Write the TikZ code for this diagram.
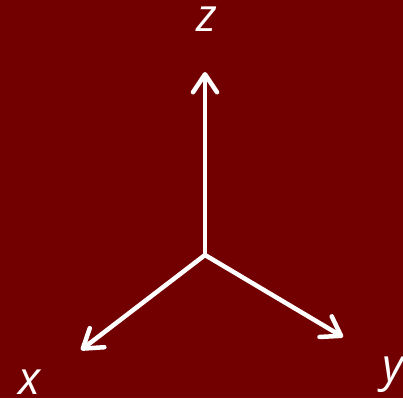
\documentclass[tikz,border=0pt]{standalone}
\usepackage{fontspec}
\setmainfont{Open Sans}
\usetikzlibrary{arrows.meta}
\definecolor{bgred}{RGB}{115,0,0}
\tikzset{
  axis/.style={draw=white, line width=4.5pt, line cap=round,
    -{Straight Barb[length=18pt,width=24pt,line cap=round,line join=round]}},
  lbl/.style={text=white, font=\fontsize{46}{46}\selectfont\itshape, inner sep=0pt, anchor=base}
}
\begin{document}
\begin{tikzpicture}[x=1pt,y=-1pt]
\fill[bgred] (0,0) rectangle (403,398);
\useasboundingbox (0,0) rectangle (403,398);
\coordinate (o) at (205,255);
\coordinate (zt) at (205,72);
\coordinate (xt) at (81,350);
\coordinate (yt) at (343,337);
\draw[axis] (o) -- (zt);
\draw[axis] (o) -- (xt);
\draw[axis] (o) -- (yt);
\node[lbl] (zl) at (207,32) {z};
\node[lbl] (xl) at (30,394) {x};
\node[lbl] (yl) at (393,381) {y};
\end{tikzpicture}
\end{document}
